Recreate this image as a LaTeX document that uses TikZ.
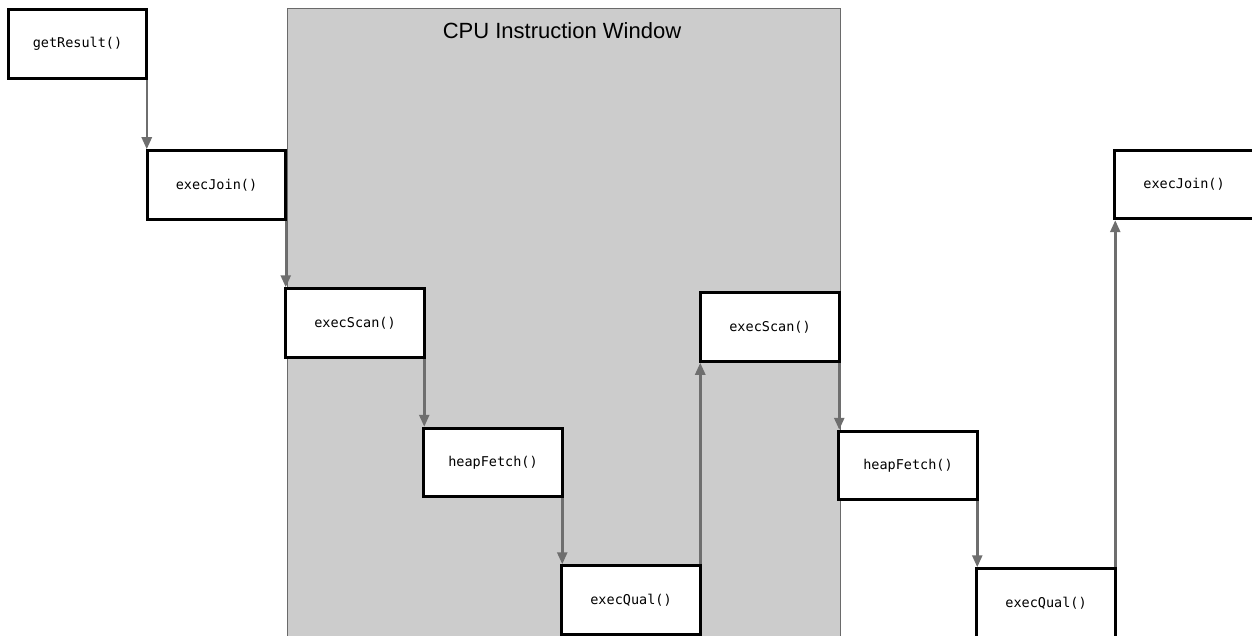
\documentclass[tikz,border=0pt]{standalone}
\usepackage{fontspec}
\setmainfont{Liberation Sans}
\newfontfamily\codefont{DejaVu Sans Mono}
\usetikzlibrary{arrows.meta}
\definecolor{windowfill}{HTML}{CCCCCC}
\definecolor{windowline}{HTML}{6A6A6A}
\definecolor{callline}{HTML}{6E6E6E}
\tikzset{
  fnbox/.style={draw=black, fill=white, line width=3pt, outer sep=0pt,
    minimum width=138.5pt, minimum height=68.5pt, inner sep=0pt,
    font=\codefont\fontsize{13.5}{16}\selectfont},
  call/.style={draw=callline, line width=2.5pt, -{Triangle[width=10pt,length=12pt]},
    shorten >=1.5pt, shorten <=1.5pt},
  window/.style={fill=windowfill, draw=windowline, line width=1pt},
}
\begin{document}
\begin{tikzpicture}[x=1pt,y=-1pt]
\clip (0,0) rectangle (1252,636);
% instruction window backdrop
\draw[window] (287.5,9) rectangle (840,650);
\node[font=\fontsize{22}{24}\selectfont] (title) at (562,31) {CPU Instruction Window};
% call stack frames
\node[fnbox] (gr)  at (77.5,44)    {getResult()};
\node[fnbox] (ej)  at (216.5,185)  {execJoin()};
\node[fnbox] (es)  at (355,323)    {execScan()};
\node[fnbox] (hf)  at (493,462.5)  {heapFetch()};
\node[fnbox] (eq)  at (631,600)    {execQual()};
\node[fnbox] (es2) at (770,327)    {execScan()};
\node[fnbox] (hf2) at (908,465.5)  {heapFetch()};
\node[fnbox] (eq2) at (1046,603)   {execQual()};
\node[fnbox] (ej2) at (1184,184.5) {execJoin()};
% calls and returns between frames, kept vertical
\draw[call] (gr.south east)  -- (gr.south east  |- ej.north west);
\draw[call] (ej.south east)  -- (ej.south east  |- es.north west);
\draw[call] (es.south east)  -- (es.south east  |- hf.north west);
\draw[call] (hf.south east)  -- (hf.south east  |- eq.north west);
\draw[call] (eq.north east)  -- (eq.north east  |- es2.south west);
\draw[call] (es2.south east) -- (es2.south east |- hf2.north west);
\draw[call] (hf2.south east) -- (hf2.south east |- eq2.north west);
\draw[call] (eq2.north east) -- (eq2.north east |- ej2.south west);
\end{tikzpicture}
\end{document}
